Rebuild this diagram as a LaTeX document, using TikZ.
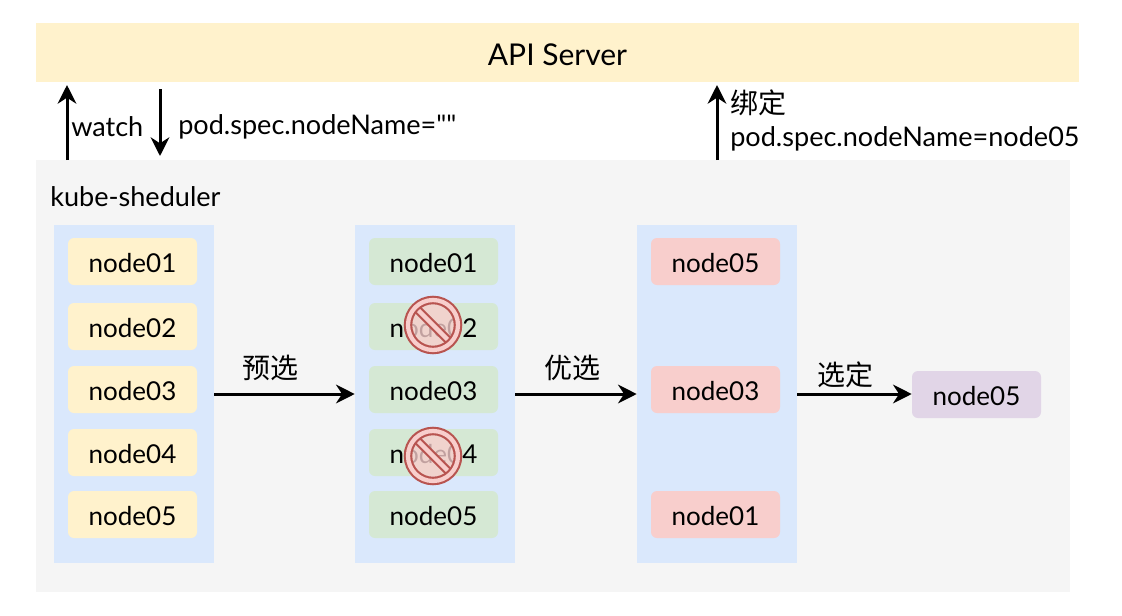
\documentclass[tikz,border=0pt]{standalone}
\usepackage{fontspec}
\usepackage{xcolor}
\setmainfont{Lato}
\newfontfamily\cjk{Noto Sans CJK SC}
\newfontfamily\plainlato{Lato}
\usetikzlibrary{arrows.meta,positioning}
\definecolor{apifill}{HTML}{FFF2CC}
\definecolor{panelfill}{HTML}{F5F5F5}
\definecolor{colfill}{HTML}{DAE8FC}
\definecolor{okfill}{HTML}{D5E8D4}
\definecolor{topfill}{HTML}{F8CECC}
\definecolor{pickfill}{HTML}{E1D5E7}
\definecolor{stopline}{HTML}{B85450}
\begin{document}
\begin{tikzpicture}[
    x=0.75pt, y=-0.75pt,
    txt/.style={font=\fontsize{20.3}{24}\selectfont, inner sep=0pt, text=black},
    cjktxt/.style={font=\fontsize{21}{24}\selectfont\cjk, inner sep=0pt, text=black},
    panel/.style={inner sep=0pt, minimum width=782.25pt, minimum height=44.25pt, fill=apifill, text height=19pt, text depth=0pt, font=\fontsize{22.5}{26}\selectfont},
    group/.style={inner sep=0pt, minimum width=120pt, minimum height=253.5pt, fill=colfill},
    box1/.style={rounded corners=4.5pt, fill=apifill, minimum width=96.75pt, minimum height=35.25pt, inner sep=0pt, text height=17pt, text depth=0pt, font=\fontsize{19.5}{24}\selectfont},
    box2/.style={box1, fill=okfill},
    box3/.style={box1, fill=topfill},
    box4/.style={box1, fill=pickfill},
    stopback/.style={circle, fill=topfill, fill opacity=0.78, minimum size=37.5pt, inner sep=0pt},
    stopring/.style={circle, draw=stopline, line width=1.6pt, double=topfill, double distance=3.2pt, minimum size=37.5pt, inner sep=0pt},
    stopbar/.style={draw=stopline, line width=1.6pt, double=topfill, double distance=3.2pt},
    arr/.style={-{Stealth[length=14pt, width=14pt, inset=4.5pt]}, line width=2.25pt, draw=black}
  ]
    \useasboundingbox (0,0) rectangle (1122,615);
    \node[panel] (api) at (557.5,52.5) {API Server};
    \node[inner sep=0pt, minimum width=775.5pt, minimum height=324pt, fill=panelfill] (sched) at (553,376) {};
    \node[txt, anchor=west] (schedname) at (50,197) {kube-sheduler};

    \node[group] (col1) at (134,394) {};
    \node[group] (col2) at (435,394) {};
    \node[group] (col3) at (717,394) {};

    \node[box1] (a1) at (132.5,261.5) {node01};
    \node[box1] (a2) at (132.5,326.5) {node02};
    \node[box1] (a3) at (132.5,389.5) {node03};
    \node[box1] (a4) at (132.5,452.5) {node04};
    \node[box1] (a5) at (132.5,514.5) {node05};

    \node[box2] (b1) at (433.5,261.5) {node01};
    \node[box2] (b2) at (433.5,326.5) {node02};
    \node[box2] (b3) at (433.5,389.5) {node03};
    \node[box2] (b4) at (433.5,452.5) {node04};
    \node[box2] (b5) at (433.5,514.5) {node05};

    \node[stopback] (stop2) at (433,325) {};
    \node[stopback] (stop4) at (433,456) {};
    \draw[stopbar] (stop2.135) -- (stop2.-45);
    \draw[stopbar] (stop4.135) -- (stop4.-45);
    \node[stopring] (ring2) at (stop2) {};
    \node[stopring] (ring4) at (stop4) {};

    \node[box3] (c1) at (715.5,261.5) {node05};
    \node[box3] (c2) at (715.5,389.5) {node03};
    \node[box3] (c3) at (715.5,514.5) {node01};
    \node[box4] (pick) at (976.5,394.5) {node05};

    \draw[arr] (col1) -- (col2);
    \draw[arr] (col2) -- (col3);
    \draw[arr] (col3) -- (col3 -| pick.west);
    \node[cjktxt] (prelabel) at (270,368) {预选};
    \node[cjktxt] (prilabel) at (572,368) {优选};
    \node[cjktxt] (picklabel) at (845,375) {选定};

    \coordinate (w0) at (67,160);
    \coordinate (w1) at (67,85);
    \coordinate (d0) at (160,89);
    \coordinate (d1) at (160,156);
    \coordinate (b0) at (717,160);
    \coordinate (b1top) at (717,85);
    \draw[arr] (w0) -- (w1);
    \draw[arr] (d0) -- (d1);
    \draw[arr] (b0) -- (b1top);
    \node[txt, anchor=west] (watchlabel) at (71,126.5) {watch};
    \node[txt, anchor=west] (emptylabel) at (178,126.5) {pod.spec.nodeName={\plainlato ""}};
    \node[cjktxt, anchor=west] (bindlabel) at (730,103) {绑定};
    \node[txt, anchor=west] (setlabel) at (730,138.5) {pod.spec.nodeName=node05};
  \end{tikzpicture}
\end{document}
